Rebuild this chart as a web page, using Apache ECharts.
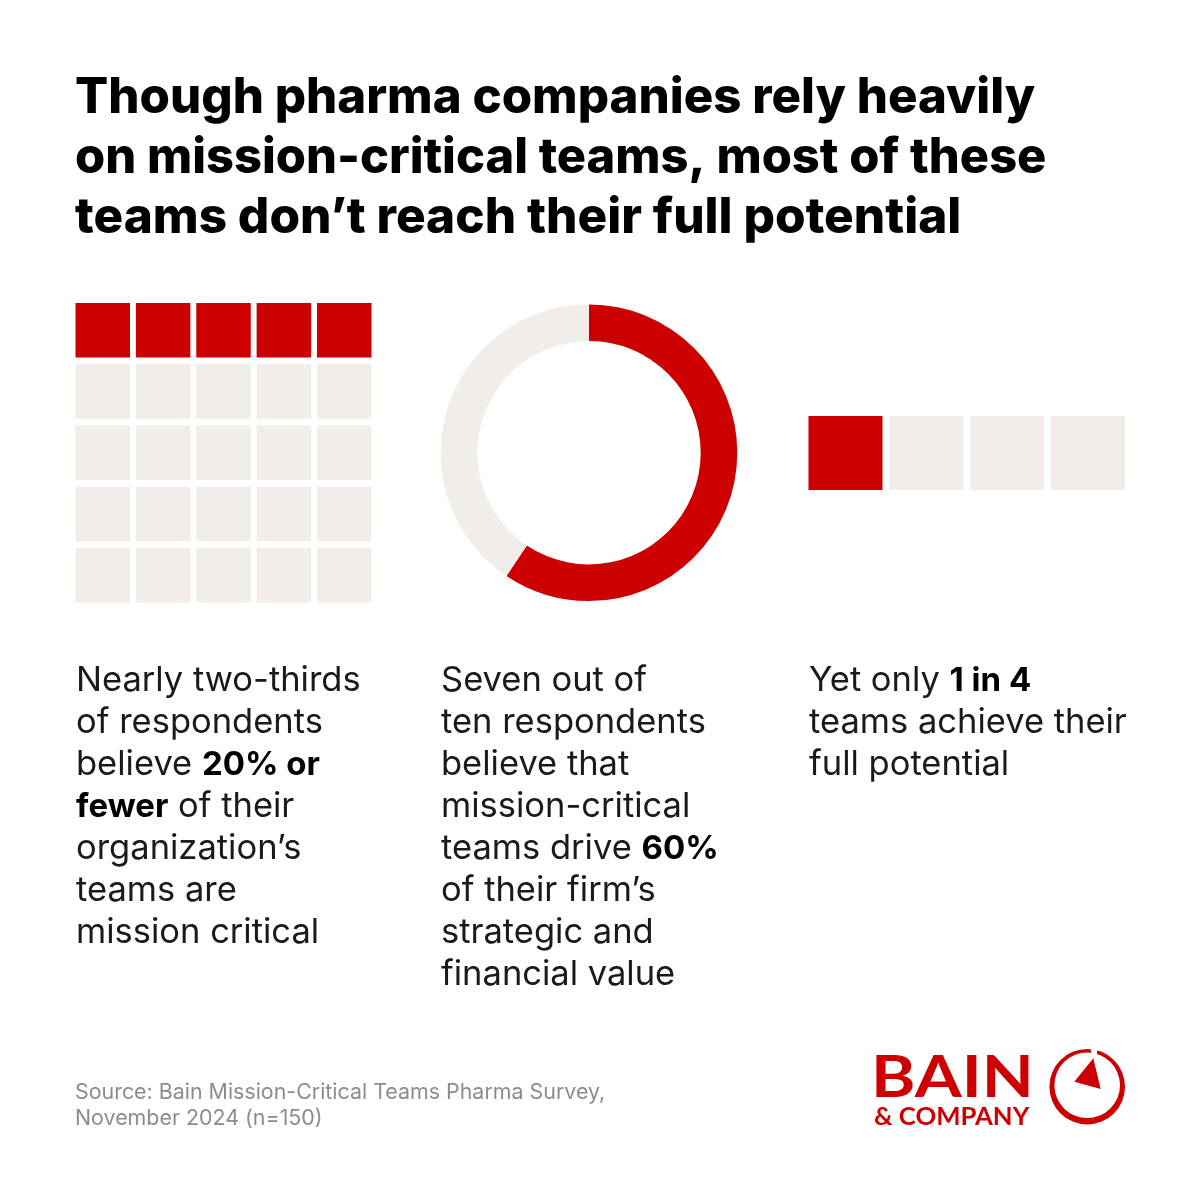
<!DOCTYPE html>
<html>
<head>
<meta charset="utf-8">
<title>Mission-critical teams</title>
<script src="https://cdn.jsdelivr.net/npm/echarts@6/dist/echarts.min.js"></script>
<style>
  html, body { margin: 0; padding: 0; background: #fff; }
  #chart { width: 1200px; height: 1200px; }
</style>
</head>
<body>
<div id="chart"></div>
<script>
const titleLines = [
  '{a|Though pharma companies rely heavily}',
  '{b|on mission-critical teams, most of these}',
  '{c|teams don\u2019t reach their full potential}'
];

// waffle: how many cells of each row are red
const waffleColumns = [0, 1, 2, 3, 4];
const waffleRows = [0, 1, 2, 3, 4];
const waffleRedPerRow = [5, 0, 0, 0, 0];

const donutNames = ['Mission-critical teams', 'Other teams'];
const donutValues = [59.4, 40.6]; // as drawn, the text rounds it to 60%

const teamCells = [0, 1, 2, 3];
const teamsReachingPotential = 1;

const col1Lines = [
  'Nearly two-thirds',
  'of respondents',
  'believe {b|20% or}',
  '{b|fewer} of their',
  'organization\u2019s',
  'teams are',
  'mission critical'
];
const col2Lines = [
  'Seven out of',
  'ten respondents',
  'believe that',
  'mission-critical',
  'teams drive {b|60%}',
  'of their firm\u2019s',
  'strategic and',
  'financial value'
];
const col3Lines = [
  'Yet only {b|1 in 4}',
  'teams achieve their',
  'full potential'
];
const sourceLines = [
  'Source: Bain Mission-Critical Teams Pharma Survey,',
  'November 2024 (n=150)'
];

const RED = '#cc0000';
const GREY = '#f1eeea';
const FONT = 'Inter';

function bodyText(lines, left) {
  return {
    left: left,
    top: 660,
    padding: 0,
    text: lines.join('\n'),
    textStyle: {
      fontFamily: FONT,
      fontSize: 34.5,
      fontWeight: 400,
      color: '#1a1a1a',
      lineHeight: 42,
      rich: {
        b: { fontFamily: FONT, fontSize: 33, fontWeight: 700, color: '#000', lineHeight: 42 }
      }
    }
  };
}

function titleStyle(size) {
  return { fontFamily: FONT, fontSize: size, fontWeight: 800, color: '#000', lineHeight: 60 };
}

const waffleData = [];
waffleRows.forEach((row) => {
  waffleColumns.forEach((col) => {
    waffleData.push({
      value: [col, row],
      itemStyle: { color: col < waffleRedPerRow[row] ? RED : GREY, opacity: 1 }
    });
  });
});

const teamData = teamCells.map((cell) => ({
  value: [cell, 0],
  itemStyle: { color: cell < teamsReachingPotential ? RED : GREY, opacity: 1 }
}));

const hiddenAxis = (index, min, max, inverse) => ({
  type: 'value', gridIndex: index, min: min, max: max, inverse: inverse, show: false
});

const option = {
  backgroundColor: '#fff',
  animation: false,
  title: [
    {
      left: 75,
      top: 68,
      padding: 0,
      text: titleLines.join('\n'),
      textStyle: {
        lineHeight: 60,
        rich: { a: titleStyle(49.2), b: titleStyle(48.8), c: titleStyle(49.5) }
      }
    },
    bodyText(col1Lines, 76),
    bodyText(col2Lines, 441),
    bodyText(col3Lines, 809),
    {
      left: 75,
      top: 1080,
      padding: 0,
      text: sourceLines.join('\n'),
      textStyle: { fontFamily: FONT, fontSize: 21.4, fontWeight: 400, color: '#8c8c8c', lineHeight: 26 }
    }
  ],
  grid: [
    { left: 102.75, top: 330.25, width: 241.5, height: 245 },
    { left: 845.5, top: 453, width: 242.5, height: 1 }
  ],
  xAxis: [hiddenAxis(0, 0, 4, false), hiddenAxis(1, 0, 3, false)],
  yAxis: [hiddenAxis(0, 0, 4, true), hiddenAxis(1, 0, 1, true)],
  series: [
    {
      type: 'scatter', xAxisIndex: 0, yAxisIndex: 0, symbol: 'rect', symbolSize: 54.5,
      clip: false, silent: true, data: waffleData
    },
    {
      type: 'pie', center: [589, 452.7], radius: [111.7, 148.3], startAngle: 90, clockwise: true,
      silent: true, label: { show: false }, labelLine: { show: false },
      data: donutNames.map((name, i) => ({
        name: name, value: donutValues[i], itemStyle: { color: i === 0 ? RED : GREY }
      }))
    },
    {
      type: 'scatter', xAxisIndex: 1, yAxisIndex: 1, symbol: 'rect', symbolSize: 74,
      clip: false, silent: true, data: teamData
    }
  ],
  // Logo
  graphic: [
    {
      type: 'text', x: 871, y: 1107, scaleX: 1.165,
      style: { text: 'BAIN', fontFamily: 'Lato', fontWeight: 700, fontSize: 58, fill: RED, verticalAlign: 'bottom' }
    },
    {
      type: 'text', x: 874, y: 1105, scaleX: 1.07,
      style: { text: '& COMPANY', fontFamily: 'Lato', fontWeight: 700, fontSize: 24, fill: RED, verticalAlign: 'top' }
    },
    { type: 'circle', shape: { cx: 1087.2, cy: 1086.7, r: 37.8 }, style: { fill: RED } },
    { type: 'circle', shape: { cx: 1087.2, cy: 1085.2, r: 32.8 }, style: { fill: '#fff' } },
    { type: 'polygon', shape: { points: [[1090, 1046], [1097, 1046], [1097, 1056], [1092, 1056]] }, style: { fill: '#fff' } },
    { type: 'polygon', shape: { points: [[1093.3, 1058.3], [1074.3, 1081.7], [1100.7, 1089]] }, style: { fill: RED } }
  ]
};

const chart = echarts.init(document.getElementById('chart'));
chart.setOption(option);
</script>
</body>
</html>
